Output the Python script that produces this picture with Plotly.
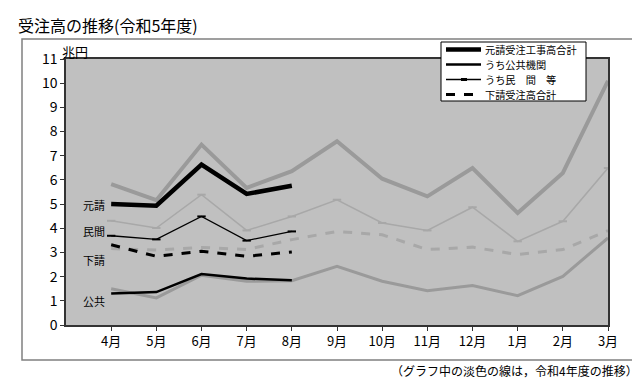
import plotly.graph_objects as go

months = ["4月", "5月", "6月", "7月", "8月", "9月", "10月", "11月", "12月", "1月", "2月", "3月"]

# 令和5年度 (current year, black)
moto_r5 = [5.0, 4.93, 6.63, 5.42, 5.76]
kokyo_r5 = [1.30, 1.36, 2.11, 1.92, 1.85]
minkan_r5 = [3.69, 3.54, 4.49, 3.49, 3.87]
shita_r5 = [3.32, 2.84, 3.05, 2.84, 3.02]

# 令和4年度 (previous year, light gray)
moto_r4 = [5.83, 5.16, 7.46, 5.67, 6.36, 7.6, 6.05, 5.32, 6.49, 4.63, 6.29, 10.1]
kokyo_r4 = [1.50, 1.12, 2.06, 1.81, 1.83, 2.43, 1.81, 1.42, 1.63, 1.21, 2.01, 3.6]
minkan_r4 = [4.31, 4.01, 5.39, 3.91, 4.49, 5.18, 4.22, 3.91, 4.87, 3.46, 4.29, 6.49]
shita_r4 = [3.16, 3.10, 3.21, 3.12, 3.53, 3.87, 3.73, 3.12, 3.22, 2.91, 3.12, 3.90]

legend_names = ["元請受注工事高合計", "うち公共機関", "うち民　間　等", "下請受注高合計"]
side_labels = ["元請", "民間", "下請", "公共"]
title_text = "受注高の推移(令和5年度)"
unit_text = "兆円"
note_text = "（グラフ中の淡色の線は，令和4年度の推移）"

FONT = "Noto Sans CJK JP"
GRAY = "#9a9a9a"
GRAY2 = "#a8a8a8"

W, H = 640, 380
ML, MR, MT, MB = 58, 40, 51, 63
pw = W - ML - MR
ph = H - MT - MB


def px_x(x):
    return (x - ML) / pw


def px_y(y):
    return (H - MB - y) / ph


fig = go.Figure()

# previous-year gray lines
fig.add_trace(go.Scatter(x=months, y=moto_r4, mode="lines", line=dict(color=GRAY, width=4),
                         showlegend=False, hoverinfo="skip"))
fig.add_trace(go.Scatter(x=months, y=kokyo_r4, mode="lines", line=dict(color=GRAY, width=3),
                         showlegend=False, hoverinfo="skip"))
fig.add_trace(go.Scatter(x=months, y=minkan_r4, mode="lines+markers", line=dict(color=GRAY2, width=1.5),
                         marker=dict(symbol="line-ew", size=6, line=dict(color=GRAY2, width=2)),
                         showlegend=False, hoverinfo="skip"))
fig.add_trace(go.Scatter(x=months, y=shita_r4, mode="lines", line=dict(color=GRAY2, width=3, dash="dash"),
                         showlegend=False, hoverinfo="skip"))

# current-year black lines
fig.add_trace(go.Scatter(x=months[:len(moto_r5)], y=moto_r5, mode="lines", name=legend_names[0],
                         line=dict(color="black", width=4.5), showlegend=False))
fig.add_trace(go.Scatter(x=months[:len(kokyo_r5)], y=kokyo_r5, mode="lines", name=legend_names[1],
                         line=dict(color="black", width=2.5), showlegend=False))
fig.add_trace(go.Scatter(x=months[:len(minkan_r5)], y=minkan_r5, mode="lines+markers", name=legend_names[2],
                         line=dict(color="black", width=1.3),
                         marker=dict(symbol="line-ew", size=6, line=dict(color="black", width=2)),
                         showlegend=False))
fig.add_trace(go.Scatter(x=months[:len(shita_r5)], y=shita_r5, mode="lines", name=legend_names[3],
                         line=dict(color="black", width=3, dash="dash"), showlegend=False))

fig.update_layout(
    width=W, height=H,
    margin=dict(l=ML, r=MR, t=MT, b=MB),
    paper_bgcolor="white",
    plot_bgcolor="#c0c0c0",
    font=dict(family=FONT, size=13, color="black"),
    showlegend=False,
)

fig.update_xaxes(type="category", range=[-1, 11], showline=True, linecolor="#333333", linewidth=1.5,
                 mirror=True, ticks="outside", ticklen=4, tickcolor="#333333", showgrid=False,
                 tickfont=dict(size=13), zeroline=False)
fig.update_yaxes(range=[0, 11], dtick=1, showline=True, linecolor="#333333", linewidth=1.5,
                 mirror=True, ticks="outside", ticklen=4, tickcolor="#333333", showgrid=False,
                 tickfont=dict(size=14), zeroline=False)

anns = []
anns.append(dict(text=title_text, x=px_x(8), y=px_y(17), xref="paper", yref="paper", xanchor="left",
                 yanchor="middle", showarrow=False, font=dict(size=16)))
anns.append(dict(text=unit_text, x=px_x(52), y=px_y(44), xref="paper", yref="paper", xanchor="left",
                 yanchor="middle", showarrow=False, font=dict(size=13)))
anns.append(dict(text=note_text, x=px_x(632), y=px_y(362), xref="paper", yref="paper", xanchor="right",
                 yanchor="middle", showarrow=False, font=dict(size=12)))
side_px = [197, 223, 252, 293]
for lab, ypx in zip(side_labels, side_px):
    anns.append(dict(text=lab, x=px_x(73), y=px_y(ypx), xref="paper", yref="paper", xanchor="left",
                     yanchor="middle", showarrow=False, font=dict(size=11)))

shapes = []
# outer frame
shapes.append(dict(type="rect", xref="paper", yref="paper", x0=px_x(14), x1=px_x(627), y0=px_y(352),
                   y1=px_y(31), line=dict(color="#808080", width=1.5), fillcolor="rgba(0,0,0,0)",
                   layer="below"))

# manual legend box
shapes.append(dict(type="rect", xref="paper", yref="paper", x0=px_x(433), x1=px_x(578), y0=px_y(93),
                   y1=px_y(34), line=dict(color="black", width=1), fillcolor="white", layer="above"))
leg_rows = [41.5, 56.5, 71.5, 86.5]
leg_styles = [dict(width=4.5, dash="solid"), dict(width=2.5, dash="solid"),
              dict(width=1.3, dash="solid"), dict(width=3, dash="dash")]
for name, ry, st in zip(legend_names, leg_rows, leg_styles):
    shapes.append(dict(type="line", xref="paper", yref="paper", x0=px_x(438), x1=px_x(473), y0=px_y(ry),
                       y1=px_y(ry), line=dict(color="black", width=st["width"], dash=st["dash"]),
                       layer="above"))
    anns.append(dict(text=name, x=px_x(475), y=px_y(ry), xref="paper", yref="paper", xanchor="left",
                     yanchor="middle", showarrow=False, font=dict(size=10.2)))
# small marker on the 民間 legend line
shapes.append(dict(type="line", xref="paper", yref="paper", x0=px_x(453), x1=px_x(459), y0=px_y(71.5),
                   y1=px_y(71.5), line=dict(color="black", width=3), layer="above"))

fig.update_layout(annotations=anns, shapes=shapes)

fig.write_html("out.html")
